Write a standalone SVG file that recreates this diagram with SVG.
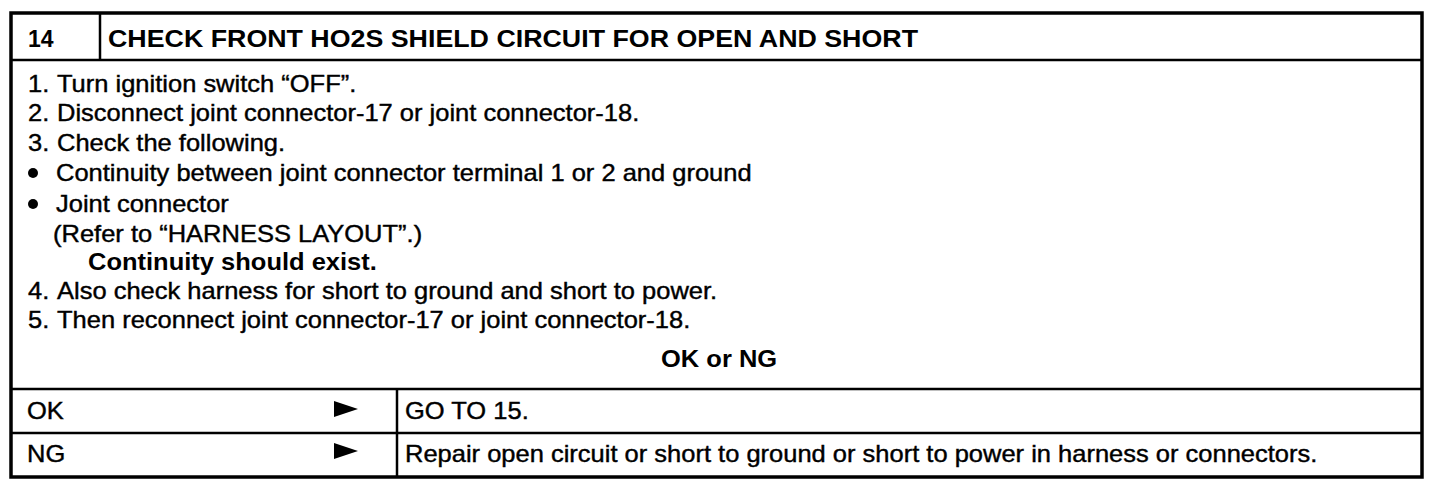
<svg xmlns="http://www.w3.org/2000/svg" width="1456" height="498" viewBox="0 0 1456 498">
<style>
.t{font-family:"Liberation Sans",Arial,sans-serif;font-size:23px;fill:#000;stroke:#000;stroke-width:0.4}
.b{font-family:"Liberation Sans",Arial,sans-serif;font-size:23px;font-weight:bold;fill:#000}
.ln{stroke:#000;stroke-width:2.5;fill:none}
.bx{stroke:#000;stroke-width:3.5;fill:#fff}
</style>
<rect width="1456" height="498" fill="#fff"/>
<g id="frame">
<rect class="bx" x="11" y="13" width="1411" height="464"/>
<line class="ln" x1="11" y1="60" x2="1422" y2="60"/>
<line class="ln" x1="100" y1="13" x2="100" y2="60"/>
<line class="ln" x1="11" y1="389" x2="1422" y2="389"/>
<line class="ln" x1="11" y1="433" x2="1422" y2="433"/>
<line class="ln" x1="397" y1="389" x2="397" y2="477"/>
</g>
<g id="header">
<text class="b" x="28" y="47">14</text>
<text class="b" x="108" y="47" textLength="810" lengthAdjust="spacingAndGlyphs">CHECK FRONT HO2S SHIELD CIRCUIT FOR OPEN AND SHORT</text>
</g>
<g id="body">
<text class="t" transform="translate(28,92) scale(1.109,1)">1.</text>
<text class="t" transform="translate(57,92) scale(1.109,1)">Turn ignition switch “OFF”.</text>
<text class="t" transform="translate(28,121) scale(1.109,1)">2.</text>
<text class="t" transform="translate(57,121) scale(1.109,1)">Disconnect joint connector-17 or joint connector-18.</text>
<text class="t" transform="translate(28,151) scale(1.109,1)">3.</text>
<text class="t" transform="translate(57,151) scale(1.109,1)">Check the following.</text>
<circle cx="33" cy="173" r="5" fill="#000"/>
<text class="t" transform="translate(56,181) scale(1.109,1)">Continuity between joint connector terminal 1 or 2 and ground</text>
<circle cx="33" cy="204" r="5" fill="#000"/>
<text class="t" transform="translate(56,212) scale(1.109,1)">Joint connector</text>
<text class="t" transform="translate(53,242) scale(1.109,1)">(Refer to “HARNESS LAYOUT”.)</text>
<text class="b" transform="translate(88,270) scale(1.109,1)">Continuity should exist.</text>
<text class="t" transform="translate(28,299) scale(1.109,1)">4.</text>
<text class="t" transform="translate(57,299) scale(1.109,1)">Also check harness for short to ground and short to power.</text>
<text class="t" transform="translate(28,328) scale(1.109,1)">5.</text>
<text class="t" transform="translate(57,328) scale(1.109,1)">Then reconnect joint connector-17 or joint connector-18.</text>
<text class="b" transform="translate(661,367) scale(1.109,1)">OK or NG</text>
</g>
<g id="ok">
<text class="t" transform="translate(27,419) scale(1.109,1)">OK</text>
<polygon points="334,401 358,409 334,417" fill="#000"/>
<text class="t" transform="translate(405,419) scale(1.109,1)">GO TO 15.</text>
</g>
<g id="ng">
<text class="t" transform="translate(27,462) scale(1.109,1)">NG</text>
<polygon points="334,443 358,451 334,459" fill="#000"/>
<text class="t" transform="translate(405,462) scale(1.109,1)">Repair open circuit or short to ground or short to power in harness or connectors.</text>
</g>
</svg>
